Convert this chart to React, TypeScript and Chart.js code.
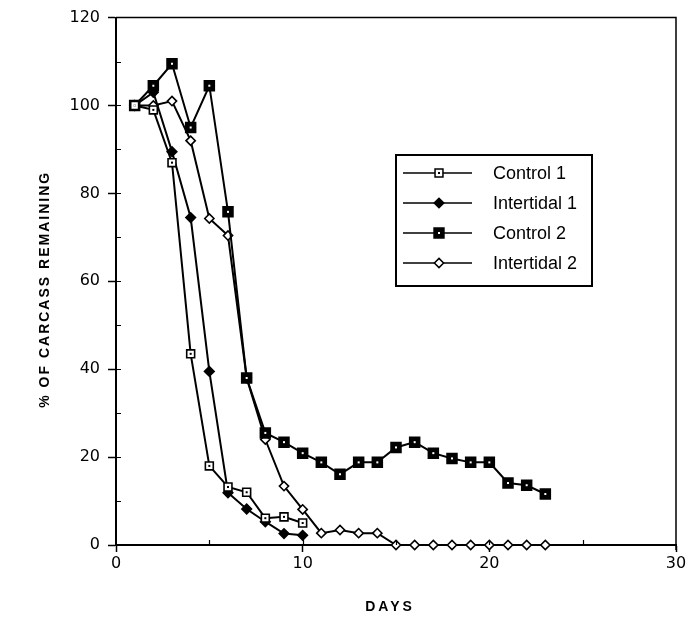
import React, { useEffect, useRef } from 'react';
import { Chart, registerables } from 'chart.js';

Chart.register(...registerables);

// ---- data ----
const days = [1, 2, 3, 4, 5, 6, 7, 8, 9, 10, 11, 12, 13, 14, 15, 16, 17, 18, 19, 20, 21, 22, 23];
const control1 = [100, 99, 87, 43.5, 18, 13.2, 12, 6.1, 6.4, 5];
const intertidal1 = [100, 103, 89.5, 74.5, 39.5, 11.9, 8.2, 5.3, 2.6, 2.2];
const control2 = [100, 104.5, 109.5, 95, 104.5, 75.8, 38, 25.5, 23.4, 20.9, 18.8, 16.1, 18.8, 18.8, 22.2, 23.4, 20.9, 19.7, 18.8, 18.8, 14.1, 13.6, 11.6];
const intertidal2 = [100, 100, 101, 92, 74.3, 70.4, 38, 24, 13.4, 8.1, 2.7, 3.4, 2.7, 2.7, 0, 0, 0, 0, 0, 0, 0, 0, 0];
const seriesLabels = ['Control 1', 'Intertidal 1', 'Control 2', 'Intertidal 2'];
const xTickLabels = [0, 10, 20, 30];
const yTickLabels = [0, 20, 40, 60, 80, 100, 120];
const xTitle = 'DAYS';
const yTitle = '% OF CARCASS REMAINING';

const toPoints = (vals: number[]) => vals.map((v, i) => ({ x: days[i], y: v }));

type Marker = { style: 'rect' | 'rectRot'; radius: number; fill: string; dot: string | null };
const markers: Marker[] = [
  { style: 'rect', radius: 5.6, fill: '#ffffff', dot: '#000000' },
  { style: 'rectRot', radius: 4.8, fill: '#000000', dot: null },
  { style: 'rect', radius: 7, fill: '#000000', dot: '#ffffff' },
  { style: 'rectRot', radius: 4.6, fill: '#ffffff', dot: null },
];

function drawMarker(ctx: CanvasRenderingContext2D, m: Marker, x: number, y: number) {
  ctx.save();
  ctx.beginPath();
  if (m.style === 'rect') {
    const s = m.radius * Math.SQRT1_2;
    ctx.rect(x - s, y - s, 2 * s, 2 * s);
  } else {
    const r = m.radius;
    ctx.moveTo(x, y - r);
    ctx.lineTo(x + r, y);
    ctx.lineTo(x, y + r);
    ctx.lineTo(x - r, y);
    ctx.closePath();
  }
  ctx.fillStyle = m.fill;
  ctx.fill();
  ctx.lineWidth = 1.5;
  ctx.strokeStyle = '#000';
  ctx.stroke();
  if (m.dot) {
    ctx.fillStyle = m.dot;
    ctx.fillRect(x - 1, y - 1, 2, 2);
  }
  ctx.restore();
}

const decorPlugin = {
  id: 'decor',
  afterDatasetsDraw(chart: any) {
    const ctx: CanvasRenderingContext2D = chart.ctx;
    [0, 2].forEach((di) => {
      const meta = chart.getDatasetMeta(di);
      const m = markers[di];
      ctx.save();
      ctx.fillStyle = m.dot as string;
      meta.data.forEach((el: any) => {
        ctx.fillRect(el.x - 1, el.y - 1, 2, 2);
      });
      ctx.restore();
    });
  },
  afterDraw(chart: any) {
    const ctx: CanvasRenderingContext2D = chart.ctx;
    const { left, right, top, bottom } = chart.chartArea;
    const xs = chart.scales.x;
    const ys = chart.scales.y;
    ctx.save();
    ctx.strokeStyle = '#000';
    // top & right frame
    ctx.lineWidth = 1.5;
    ctx.beginPath();
    ctx.moveTo(left, top);
    ctx.lineTo(right, top);
    ctx.lineTo(right, bottom + 5);
    ctx.stroke();
    // inner ticks
    ctx.lineWidth = 1.2;
    ctx.beginPath();
    for (let v = 10; v <= 110; v += 10) {
      const py = Math.round(ys.getPixelForValue(v)) + 0.5;
      ctx.moveTo(left, py);
      ctx.lineTo(left + 5, py);
    }
    for (let v = 5; v <= 25; v += 5) {
      const px = Math.round(xs.getPixelForValue(v)) + 0.5;
      ctx.moveTo(px, bottom);
      ctx.lineTo(px, bottom - 5);
    }
    ctx.stroke();

    // axis titles
    ctx.fillStyle = '#000';
    ctx.textAlign = 'center';
    ctx.textBaseline = 'middle';
    ctx.font = 'bold 14px "Liberation Sans", Arial, sans-serif';
    (ctx as any).letterSpacing = '2px';
    ctx.save();
    ctx.translate(45, (top + bottom) / 2 + 8);
    ctx.rotate(-Math.PI / 2);
    ctx.fillText(yTitle, 0, 0);
    ctx.restore();
    (ctx as any).letterSpacing = '3px';
    ctx.fillText(xTitle, (left + right) / 2 - 6, 607);
    (ctx as any).letterSpacing = '0px';

    // legend box
    const bx = 396, by = 155, bw = 196, bh = 131;
    ctx.fillStyle = '#fff';
    ctx.fillRect(bx, by, bw, bh);
    ctx.lineWidth = 2;
    ctx.strokeRect(bx, by, bw, bh);
    ctx.font = '18px "Liberation Sans", Arial, sans-serif';
    ctx.textAlign = 'left';
    seriesLabels.forEach((lab, i) => {
      const ry = 173 + i * 30;
      ctx.lineWidth = 1.3;
      ctx.beginPath();
      ctx.moveTo(403, ry);
      ctx.lineTo(472, ry);
      ctx.stroke();
      drawMarker(ctx, markers[i], 439, ry);
      ctx.fillStyle = '#000';
      ctx.fillText(lab, 493, ry + 1);
    });
    ctx.restore();
  },
};

export default function App() {
  const ref = useRef<HTMLCanvasElement | null>(null);
  useEffect(() => {
    document.body.style.margin = '0';
    const canvas = ref.current;
    if (!canvas) return;
    const series = [control1, intertidal1, control2, intertidal2];
    const chart = new Chart(canvas, {
      type: 'line',
      data: {
        datasets: series.map((vals, i) => ({
          label: seriesLabels[i],
          data: toPoints(vals),
          borderColor: '#000',
          borderWidth: 2,
          pointStyle: markers[i].style,
          pointRadius: markers[i].radius,
          pointBackgroundColor: markers[i].fill,
          pointBorderColor: '#000',
          pointBorderWidth: 1.6,
          tension: 0,
          clip: false as any,
        })),
      },
      options: {
        animation: false,
        responsive: false,
        layout: { padding: { top: 16, right: 20, left: 0, bottom: 0 } },
        plugins: { legend: { display: false }, tooltip: { enabled: false } },
        scales: {
          x: {
            type: 'linear',
            min: 0,
            max: 30,
            afterFit: (s: any) => { s.height = 74; },
            border: { display: true, color: '#000', width: 2 },
            grid: {
              drawOnChartArea: false,
              drawTicks: true,
              tickLength: 7,
              tickWidth: 1.5,
              tickColor: (c: any) => (xTickLabels.includes(c.tick?.value) ? '#000' : 'rgba(0,0,0,0)'),
            },
            ticks: {
              stepSize: 5,
              autoSkip: false,
              maxRotation: 0,
              padding: 2,
              color: '#000',
              font: { family: '"DejaVu Sans", sans-serif', size: 16 },
              callback: (v: any) => (xTickLabels.includes(Number(v)) ? String(v) : ''),
            },
          },
          y: {
            type: 'linear',
            min: 0,
            max: 120,
            afterFit: (s: any) => { s.width = 116; },
            border: { display: true, color: '#000', width: 2 },
            grid: {
              drawOnChartArea: false,
              drawTicks: true,
              tickLength: 8,
              tickWidth: 1.5,
              tickColor: (c: any) => (yTickLabels.includes(c.tick?.value) ? '#000' : 'rgba(0,0,0,0)'),
            },
            ticks: {
              stepSize: 10,
              autoSkip: false,
              padding: 8,
              color: '#000',
              font: { family: '"DejaVu Sans", sans-serif', size: 16 },
              callback: (v: any) => (yTickLabels.includes(Number(v)) ? String(v) : ''),
            },
          },
        },
      },
      plugins: [decorPlugin],
    });
    return () => chart.destroy();
  }, []);
  return <canvas ref={ref} width={696} height={619} style={{ display: 'block' }} />;
}
